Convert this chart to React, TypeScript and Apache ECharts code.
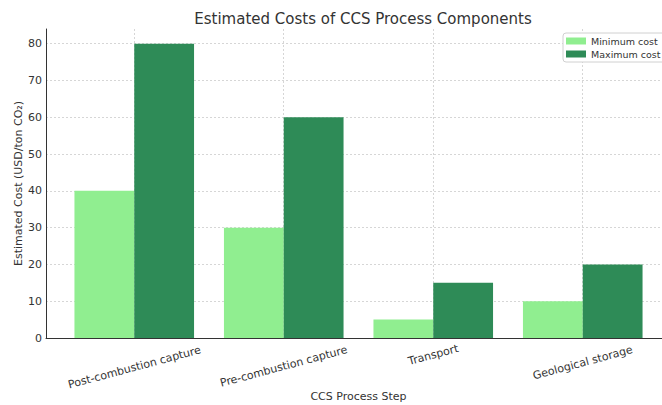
import React, { useEffect, useRef } from "react";
import * as echarts from "echarts";

const categories = ["Post-combustion capture", "Pre-combustion capture", "Transport", "Geological storage"];
const minCost = [40, 30, 5, 10];
const maxCost = [80, 60, 15, 20];
const seriesNames = ["Minimum cost", "Maximum cost"];
const yTicks = { min: 0, max: 84, interval: 10 };

const FONT = "DejaVu Sans";
const GRID_LINE = { color: "#cccccc", type: [2, 2], width: 0.8 };

export default function App() {
  const ref = useRef<HTMLDivElement>(null);
  useEffect(() => {
    if (!ref.current) return;
    const chart = echarts.init(ref.current, null, { renderer: "svg" });
    // rotated labels: extra vertical drop (px, doubled) and right spacer per label,
    // so each rotated label box sits below the axis as in the reference
    const labelDrop = [24, 22, 0, 15];
    const labelSpacer = [6, 6, 0, 4];
    const rich: Record<string, any> = {
      t: { fontFamily: FONT, fontSize: 11, color: "#333" },
    };
    labelDrop.forEach((d, i) => {
      rich["g" + i] = { height: d, lineHeight: d, fontSize: 1 };
      rich["w" + i] = { width: labelSpacer[i], fontSize: 1 };
    });
    const labelFormatter = (v: string, i: number) => {
      const idx = i ?? categories.indexOf(v);
      const line = `{t|${v}}` + (labelSpacer[idx] ? `{w${idx}| }` : "");
      return labelDrop[idx] ? `{g${idx}| }\n${line}` : line;
    };
    chart.setOption({
      animation: false,
      backgroundColor: "#ffffff",
      textStyle: { fontFamily: FONT },
      title: {
        text: "Estimated Costs of CCS Process Components",
        left: 358,
        textAlign: "center",
        top: 6,
        textStyle: { fontFamily: FONT, fontSize: 15, fontWeight: "normal", color: "#333" },
      },
      legend: {
        orient: "vertical",
        left: 563,
        top: 33,
        itemWidth: 20,
        itemHeight: 7,
        itemGap: 3,
        padding: [3, 5, 3, 3],
        borderColor: "#d0d0d0",
        borderWidth: 1,
        borderRadius: 3,
        backgroundColor: "#ffffff",
        icon: "rect",
        textStyle: { fontFamily: FONT, fontSize: 9.5, color: "#333" },
        data: seriesNames,
      },
      grid: [
        { left: 46, top: 29, width: 624, height: 309, containLabel: false, outerBoundsMode: "none" },
        { left: 59.5, top: 29, width: 598, height: 309, containLabel: false, outerBoundsMode: "none" },
        { left: 134, top: 29, width: 448.5, height: 309, containLabel: false, outerBoundsMode: "none" },
      ],
      xAxis: [
        {
          gridIndex: 0,
          type: "value",
          min: 0,
          max: 1,
          axisLine: { show: true, onZero: false, lineStyle: { color: "#333", width: 1 } },
          axisTick: { show: false },
          axisLabel: { show: false },
          splitLine: { show: false },
        },
        {
          gridIndex: 1,
          type: "category",
          data: categories,
          name: "CCS Process Step",
          nameLocation: "middle",
          nameGap: 53,
          nameMoveOverlap: false,
          nameTextStyle: { fontFamily: FONT, fontSize: 11, color: "#333", verticalAlign: "top" },
          axisLine: { show: false },
          axisTick: { show: false },
          axisLabel: {
            rotate: 15,
            align: "center",
            verticalAlign: "middle",
            margin: 17,
            interval: 0,
            fontFamily: FONT,
            fontSize: 11,
            color: "#333",
            formatter: labelFormatter,
            rich,
          },
          splitLine: { show: false },
        },
        {
          gridIndex: 2,
          type: "category",
          data: categories,
          boundaryGap: false,
          axisLine: { show: false },
          axisTick: { show: false },
          axisLabel: { show: false },
          splitLine: { show: true, interval: 0, lineStyle: GRID_LINE },
        },
      ],
      yAxis: [
        {
          gridIndex: 0,
          type: "value",
          min: yTicks.min,
          max: yTicks.max,
          interval: yTicks.interval,
          name: "Estimated Cost (USD/ton CO₂)",
          nameLocation: "middle",
          nameGap: 22,
          nameMoveOverlap: false,
          nameTextStyle: { fontFamily: FONT, fontSize: 11, color: "#333", verticalAlign: "bottom" },
          axisLine: { show: true, onZero: false, lineStyle: { color: "#333", width: 1 } },
          axisTick: { show: false },
          axisLabel: {
            fontFamily: FONT,
            fontSize: 11,
            color: "#333",
            margin: 4,
            showMaxLabel: false,
            formatter: (v: number) => (v % 10 === 0 ? String(v) : ""),
          },
          splitLine: { show: true, showMinLine: false, showMaxLine: false, lineStyle: GRID_LINE },
        },
        {
          gridIndex: 1,
          type: "value",
          min: yTicks.min,
          max: yTicks.max,
          interval: yTicks.interval,
          show: false,
          splitLine: { show: false },
        },
        {
          gridIndex: 2,
          type: "value",
          min: yTicks.min,
          max: yTicks.max,
          interval: yTicks.interval,
          show: false,
          splitLine: { show: false },
        },
      ],
      series: [
        {
          name: seriesNames[0],
          type: "bar",
          xAxisIndex: 1,
          yAxisIndex: 1,
          data: minCost,
          barWidth: "40%",
          barGap: "0%",
          itemStyle: { color: "#90EE90" },
        },
        {
          name: seriesNames[1],
          type: "bar",
          xAxisIndex: 1,
          yAxisIndex: 1,
          data: maxCost,
          barWidth: "40%",
          barGap: "0%",
          itemStyle: { color: "#2E8B57" },
        },
      ],
    });
    return () => chart.dispose();
  }, []);
  return <div ref={ref} style={{ width: 662, height: 405, position: "absolute", left: 0, top: 0 }} />;
}
